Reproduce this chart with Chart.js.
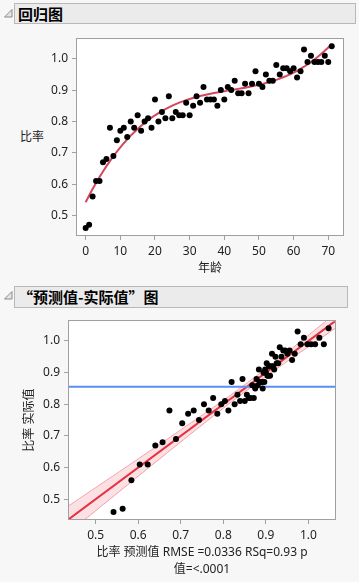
<!DOCTYPE html>
<html><head><meta charset="utf-8">
<script src="https://cdn.jsdelivr.net/npm/chart.js@4.4.0/dist/chart.umd.min.js"></script>
<style>
html,body{margin:0;padding:0;background:#f7f7f7;width:359px;height:582px;overflow:hidden;font-family:"Noto Sans","Noto Sans CJK SC",sans-serif;}
.hdr{position:absolute;left:14px;background:#ebebeb;border:1px solid #b8b8b8;font-weight:bold;font-size:15px;color:#000;font-family:"Noto Sans CJK SC",sans-serif;padding-left:3px;box-sizing:border-box;}
.tri{position:absolute;left:4px;}
canvas{position:absolute;left:0;}
#ytitle1{position:absolute;left:12px;width:40px;top:127px;line-height:18px;font-size:12px;text-align:center;color:#222;font-family:"Noto Sans CJK SC",sans-serif;}
</style></head>
<body>
<svg class="tri" style="top:9px" width="9" height="9"><polygon points="8,0.5 8,8 0.5,8" fill="#e6e6e6" stroke="#8a8a8a" stroke-width="1"/></svg>
<div class="hdr" style="top:3px;width:342px;height:21px;line-height:19px;">回归图</div>
<svg class="tri" style="top:291px" width="9" height="9"><polygon points="8,0.5 8,8 0.5,8" fill="#e6e6e6" stroke="#8a8a8a" stroke-width="1"/></svg>
<div class="hdr" style="top:286px;width:334px;height:22px;line-height:20px;">“预测值-实际值”图</div>
<div id="ytitle1">比率</div>
<canvas id="c1" width="359" height="252" style="top:28px;width:359px;height:252px"></canvas>
<canvas id="c2" width="359" height="272" style="top:310px;width:359px;height:272px"></canvas>
<script>
// ---- data ----
const ages = [0,1,2,3,4,5,6,7,8,9,10,11,12,13,14,15,16,17,18,19,20,21,22,23,24,25,26,27,28,29,30,31,32,33,34,35,
  36,37,38,39,40,41,42,43,44,45,46,47,48,49,50,51,52,53,54,55,56,57,58,59,60,61,62,63,64,65,66,67,68,69,70,71];
const ratio = [0.46,0.47,0.56,0.61,0.61,0.67,0.68,0.78,0.69,0.74,
  0.77,0.78,0.75,0.80,0.78,0.82,0.77,0.80,0.81,0.78,
  0.87,0.80,0.83,0.81,0.88,0.81,0.83,0.82,0.82,0.86,
  0.82,0.85,0.88,0.86,0.91,0.87,0.87,0.87,0.85,0.90,
  0.87,0.91,0.90,0.93,0.89,0.89,0.92,0.89,0.92,0.96,
  0.92,0.91,0.95,0.93,0.93,0.98,0.95,0.97,0.97,0.96,
  0.97,0.94,0.96,1.03,0.99,1.01,0.99,0.99,0.99,1.01,
  0.99,1.04];
const ageTicks = [0,10,20,30,40,50,60,70];
const ratioTicks = [0.5,0.6,0.7,0.8,0.9,1.0];
const predTicks = [0.5,0.6,0.7,0.8,0.9,1.0];
const xTitle1 = "年龄";
const yTitle2 = "比率 实际值";
const xTitle2 = ["比率 预测值 RMSE =0.0336 RSq=0.93 p", "值=<.0001"];

// ---- cubic least-squares fit of ratio on age (the regression shown) ----
function cubicFit(xs, ys) {
  const c = 35.5, s = 35.5, m = 4;
  const A = [], b = [];
  for (let j = 0; j < m; j++) { A.push(new Array(m).fill(0)); b.push(0); }
  xs.forEach((x, i) => {
    const u = (x - c) / s;
    const p = [1, u, u*u, u*u*u];
    for (let j = 0; j < m; j++) { b[j] += p[j] * ys[i]; for (let k = 0; k < m; k++) A[j][k] += p[j] * p[k]; }
  });
  for (let col = 0; col < m; col++) {
    let piv = col;
    for (let r = col + 1; r < m; r++) if (Math.abs(A[r][col]) > Math.abs(A[piv][col])) piv = r;
    [A[col], A[piv]] = [A[piv], A[col]]; [b[col], b[piv]] = [b[piv], b[col]];
    for (let r = 0; r < m; r++) {
      if (r === col) continue;
      const f = A[r][col] / A[col][col];
      for (let k = col; k < m; k++) A[r][k] -= f * A[col][k];
      b[r] -= f * b[col];
    }
  }
  const coef = b.map((v, j) => v / A[j][j]);
  return x => { const u = (x - c) / s; return coef[0] + coef[1]*u + coef[2]*u*u + coef[3]*u*u*u; };
}
const fit = cubicFit(ages, ratio);
const predicted = ages.map(fit);
const n = ratio.length;
const meanY = ratio.reduce((a, v) => a + v, 0) / n;
const sse = ratio.reduce((a, v, i) => a + (v - predicted[i]) ** 2, 0);
const rmse = Math.sqrt(sse / (n - 4));
const meanP = predicted.reduce((a, v) => a + v, 0) / n;
const sxx = predicted.reduce((a, v) => a + (v - meanP) ** 2, 0);
const crit = 2.87; // sqrt(3 * F(0.95; 3, 68))

const FONT = '"Noto Sans", "Noto Sans CJK SC", sans-serif';
const TICKC = '#222';
const FRAME = '#a0a0a0';

const framePlugin = {
  id: 'frame',
  beforeDraw(chart) {
    const a = chart.chartArea, ctx = chart.ctx;
    ctx.save(); ctx.fillStyle = '#fff';
    ctx.fillRect(a.left, a.top, a.right - a.left, a.bottom - a.top);
    ctx.restore();
  },
  afterDraw(chart) {
    const a = chart.chartArea, ctx = chart.ctx;
    ctx.save(); ctx.strokeStyle = FRAME; ctx.lineWidth = 1;
    ctx.strokeRect(Math.round(a.left) - 0.5, Math.round(a.top) - 0.5, Math.round(a.right - a.left) + 1, Math.round(a.bottom - a.top) + 1);
    ctx.restore();
  }
};

function axis(min, max, ticks, fmt, extra) {
  return Object.assign({
    type: 'linear', min, max,
    afterBuildTicks: sc => { sc.ticks = ticks.map(v => ({ value: v })); },
    ticks: { callback: fmt, color: TICKC, font: { family: FONT, size: 12 }, padding: 4, maxRotation: 0, autoSkip: false },
    grid: { display: true, drawOnChartArea: false, drawTicks: true, tickLength: 5, color: FRAME, lineWidth: 1 },
    border: { display: false }
  }, extra);
}

Chart.defaults.animation = false;

// ---- regression plot ----
new Chart(document.getElementById('c1'), {
  type: 'scatter',
  data: {
    datasets: [
      { data: ages.map((a, i) => ({ x: a, y: ratio[i] })), pointRadius: 3, pointBackgroundColor: '#000', pointBorderWidth: 0, order: 0 },
      { data: ages.map((a, i) => ({ x: a, y: predicted[i] })), showLine: true, pointRadius: 0, borderColor: '#d4475d', borderWidth: 2, order: 1 }
    ]
  },
  options: {
    responsive: false, events: [],
    layout: { padding: { left: 0, right: 16, top: 7, bottom: 0 } },
    plugins: { legend: { display: false }, tooltip: { enabled: false } },
    scales: {
      x: axis(-2.5, 74.25, ageTicks, v => String(v), {
        title: { display: true, text: xTitle1, color: '#222', font: { family: FONT, size: 12, lineHeight: 1.2 }, padding: { top: 0, bottom: 4 } },
        afterFit: sc => { sc.height = 45; }
      }),
      y: axis(0.4375, 1.0625, ratioTicks, v => v.toFixed(1), { afterFit: sc => { sc.width = 77; } })
    }
  },
  plugins: [framePlugin]
});

// ---- actual by predicted plot ----
const pMin = 0.4375, pMax = 1.0625;
const bandX = [];
for (let k = 0; k <= 100; k++) bandX.push(pMin + (pMax - pMin) * k / 100);
const half = x => crit * rmse * Math.sqrt(1 / n + (x - meanP) ** 2 / sxx);

new Chart(document.getElementById('c2'), {
  type: 'scatter',
  data: {
    datasets: [
      { data: predicted.map((p, i) => ({ x: p, y: ratio[i] })), pointRadius: 3, pointBackgroundColor: '#000', pointBorderWidth: 0, order: 0 },
      { data: [{ x: pMin, y: meanY }, { x: pMax, y: meanY }], showLine: true, pointRadius: 0, borderColor: '#5b8ef2', borderWidth: 2, order: 1 },
      { data: [{ x: pMin, y: pMin }, { x: pMax, y: pMax }], showLine: true, pointRadius: 0, borderColor: '#e8303e', borderWidth: 2, order: 2 },
      { data: bandX.map(x => ({ x, y: x + half(x) })), showLine: true, pointRadius: 0, borderColor: '#f4a2aa', borderWidth: 1, fill: '+1', backgroundColor: 'rgba(242,120,132,0.22)', order: 3 },
      { data: bandX.map(x => ({ x, y: x - half(x) })), showLine: true, pointRadius: 0, borderColor: '#f4a2aa', borderWidth: 1, order: 4 }
    ]
  },
  options: {
    responsive: false, events: [],
    layout: { padding: { left: 0, right: 24, top: 9, bottom: 0 } },
    plugins: { legend: { display: false }, tooltip: { enabled: false }, filler: { propagate: false } },
    scales: {
      x: axis(pMin, pMax, predTicks, v => v.toFixed(1), {
        title: { display: true, text: xTitle2, color: '#222', font: { family: FONT, size: 12, lineHeight: 1.417 }, padding: { top: 0, bottom: 3.5 } },
        afterFit: sc => { sc.height = 63; }
      }),
      y: axis(pMin, pMax, ratioTicks, v => v.toFixed(1), {
        title: { display: true, text: yTitle2, color: '#222', font: { family: FONT, size: 12, lineHeight: 1.2 }, padding: { top: 22, bottom: 0 } },
        afterFit: sc => { sc.width = 69; }
      })
    }
  },
  plugins: [framePlugin]
});
</script>
</body></html>
